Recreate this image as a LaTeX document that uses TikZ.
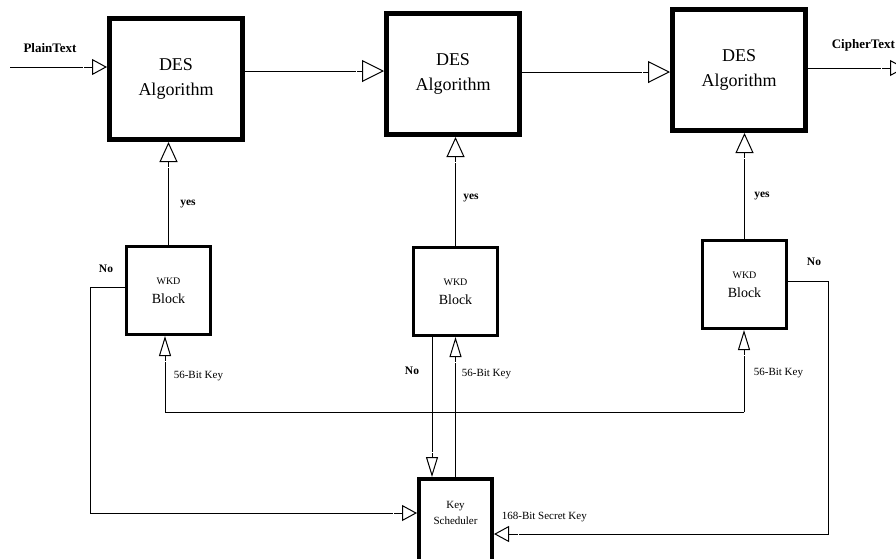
\documentclass[tikz,border=0pt]{standalone}
\usepackage{fontspec}
\setmainfont{Liberation Serif}
\usetikzlibrary{arrows.meta}

\tikzset{
  desbox/.style={draw, line width=5pt, minimum width=133pt, minimum height=121pt,
    align=center, font=\fontsize{18}{25}\selectfont},
  wkdbox/.style={draw, line width=3pt, minimum width=84pt, minimum height=88pt,
    align=center, font=\fontsize{14}{19}\selectfont},
  ksbox/.style={draw, line width=4pt, minimum width=73pt, anchor=north,
    inner ysep=22pt, text depth=70pt, align=center, font=\fontsize{11}{16}\selectfont},
  lbl/.style={font=\fontsize{11}{12}\selectfont},
  lblb/.style={font=\bfseries\fontsize{11.5}{12}\selectfont},
  arrbig/.style={-{Bar[width=0.1pt,line width=0.1pt,color=white,sep=6pt]Triangle[open,length=22pt,width=22pt]}},
  arrmid/.style={-{Bar[width=0.1pt,line width=0.1pt,color=white,sep=5pt]Triangle[open,length=20pt,width=18pt]}},
  arrthin/.style={-{Bar[width=0.1pt,line width=0.1pt,color=white,sep=5pt]Triangle[open,length=20pt,width=12pt]}},
  arrsmall/.style={-{Bar[width=0.1pt,line width=0.1pt,color=white,sep=9pt]Triangle[open,length=15pt,width=16pt]}},
}

\begin{document}
\begin{tikzpicture}[x=1pt, y=-1pt, line width=1pt]
  \useasboundingbox (0,0) rectangle (896,558);

  % DES stages
  \node[desbox] (des1) at (176,79) {DES\\Algorithm};
  \node[desbox] (des2) at (453,74) {DES\\Algorithm};
  \node[desbox] (des3) at (739,70) {DES\\Algorithm};

  % WKD blocks
  \node[wkdbox] (wkd1) at (168.5,290.5) {{\fontsize{10}{12}\selectfont WKD}\\Block};
  \node[wkdbox] (wkd2) at (455.5,291.5) {{\fontsize{10}{12}\selectfont WKD}\\Block};
  \node[wkdbox] (wkd3) at (744.5,284.5) {{\fontsize{10}{12}\selectfont WKD}\\Block};

  % key scheduler
  \node[ksbox] (ks) at (455.5,477) {Key\\Scheduler};

  % plain text in, cipher text out
  \coordinate (pin) at (10,67);
  \coordinate (cout) at (905,68);
  \draw[arrsmall] (pin) -- (pin -| des1.west);
  \node[font=\bfseries\fontsize{13}{14}\selectfont] (ptxt) at (50,48) {PlainText};
  \draw[arrbig] (des1.east |- 0,71) -- (des2.west |- 0,71);
  \draw[arrbig] (des2.east |- 0,72) -- (des3.west |- 0,72);
  \draw[arrsmall] (des3.east |- cout) -- (cout);
  \node[font=\bfseries\fontsize{13}{14}\selectfont, anchor=west] (ctxt) at (828,45) {CipherText};

  % yes paths
  \draw[arrmid] (wkd1.north) -- (wkd1.north |- des1.south);
  \draw[arrmid] (wkd2.north) -- (wkd2.north |- des2.south);
  \draw[arrmid] (wkd3.north) -- (wkd3.north |- des3.south);
  \node[lblb] (yes1) at (188,204) {yes};
  \node[lblb] (yes2) at (471,198) {yes};
  \node[lblb] (yes3) at (762,196) {yes};

  % 56-bit keys
  \coordinate (bl) at (165,412);
  \coordinate (br) at (744,412);
  \draw[arrthin] (br) -- (bl) -- (bl |- wkd1.south);
  \draw[arrthin] (br) -- (br |- wkd3.south);
  \draw[arrthin] (ks.north) -- (ks.north |- wkd2.south);
  \node[lbl, anchor=west] (k1) at (170,376) {56-Bit Key};
  \node[lbl, anchor=west] (k2) at (458,374) {56-Bit Key};
  \node[lbl, anchor=west] (k3) at (750,373) {56-Bit Key};

  % no paths back to the scheduler
  \draw[arrsmall] (wkd1.west |- 0,287) -| (90,513) -- (ks.west |- 0,513);
  \draw[arrthin] (wkd2.south -| 432,0) -- (ks.north -| 432,0);
  \draw[arrsmall] (wkd3.east |- 0,281) -| (828,534) -- (ks.east |- 0,534);
  \node[lblb] (no1) at (106,269) {No};
  \node[lblb] (no2) at (412,371) {No};
  \node[lblb] (no3) at (814,262) {No};
  \node[lbl, anchor=west] (sk) at (498,517) {168-Bit Secret Key};
\end{tikzpicture}
\end{document}
